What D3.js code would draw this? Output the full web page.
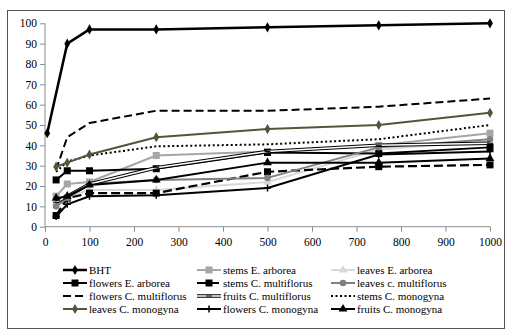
<!DOCTYPE html>
<html>
<head>
<meta charset="utf-8">
<script src="https://cdn.jsdelivr.net/npm/d3@7"></script>
<style>
  body { margin: 0; background: #fff; }
</style>
</head>
<body>
<div id="chart"></div>
<script>
// concentrations (x) and % activity (y)
const xMain = [25, 50, 100, 250, 500, 750, 1000];
const xBht = [5, 50, 100, 250, 500, 750, 1000];

const bht = [46, 90, 97, 97, 98, 99, 100];
const stemsEArborea = [15, 21, 22, 35, 37, 40, 46];
const leavesEArborea = [12, 15, 18, 18, 22, 38, 42];
const flowersEArborea = [23, 27.5, 27.5, 28.5, 36.5, 36, 39];
const stemsCMultiflorus = [5.5, 14, 16.5, 16.5, 27, 29.5, 30.4];
const leavesCMultiflorus = [10, 14, 21, 23, 24, 39, 43];
const flowersCMultiflorus = [28, 44, 51, 57, 57, 59, 63];
const fruitsCMultiflorus = [12, 15, 21, 29, 37, 40, 41];
const stemsCMonogyna = [27, 32, 35, 39.5, 40.5, 43, 50];
const leavesCMonogyna = [29.5, 31.5, 35.5, 44, 48, 50, 56];
const flowersCMonogyna = [5, 11, 15, 15.5, 19, 35.5, 37];
const fruitsCMonogyna = [14, 15, 20.5, 23, 31.5, 31.5, 33.5];

const xTicks = [0, 100, 200, 300, 400, 500, 600, 700, 800, 900, 1000];
const yTicks = [0, 10, 20, 30, 40, 50, 60, 70, 80, 90, 100];

// series list in legend order (styles only, values come from the arrays above)
const series = [
  { name: "BHT", xs: xBht, ys: bht, color: "#000", width: 2.5, marker: "diamond" },
  { name: "stems E. arborea", xs: xMain, ys: stemsEArborea, color: "#a6a6a6", width: 2, marker: "square" },
  { name: "leaves E. arborea", xs: xMain, ys: leavesEArborea, color: "#d9d9d9", width: 2, marker: "triangle" },
  { name: "flowers E. arborea", xs: xMain, ys: flowersEArborea, color: "#000", width: 2, marker: "square" },
  { name: "stems C. multiflorus", xs: xMain, ys: stemsCMultiflorus, color: "#000", width: 2.2, marker: "square", dash: "9,4" },
  { name: "leaves c. multiflorus", xs: xMain, ys: leavesCMultiflorus, color: "#808080", width: 2, marker: "circle" },
  { name: "flowers C. multiflorus", xs: xMain, ys: flowersCMultiflorus, color: "#000", width: 2, marker: null, dash: "8,4" },
  { name: "fruits C. multiflorus", xs: xMain, ys: fruitsCMultiflorus, color: "#000", width: 3.5, marker: "dash", double: true },
  { name: "stems C. monogyna", xs: xMain, ys: stemsCMonogyna, color: "#000", width: 2, marker: null, dash: "2,2.5" },
  { name: "leaves C. monogyna", xs: xMain, ys: leavesCMonogyna, color: "#55553a", width: 2, marker: "diamond" },
  { name: "flowers C. monogyna", xs: xMain, ys: flowersCMonogyna, color: "#000", width: 2, marker: "plus" },
  { name: "fruits C. monogyna", xs: xMain, ys: fruitsCMonogyna, color: "#000", width: 2, marker: "triangle" }
];

const serif = "Liberation Serif, Tinos, Times New Roman, Times, DejaVu Serif, serif";
const W = 511, H = 331;
const svg = d3.select("#chart").append("svg").attr("width", W).attr("height", H)
  .attr("font-family", serif);

// outer frame
svg.append("rect")
  .attr("x", 7.5).attr("y", 10.5).attr("width", 497).attr("height", 318)
  .style("fill", "none").style("stroke", "#555").style("stroke-width", 1);

const x = d3.scaleLinear().domain([0, 1000]).range([45, 490]);
const y = d3.scaleLinear().domain([0, 100]).range([226.7, 23.3]);

// axes
const xAxis = svg.append("g")
  .attr("transform", `translate(0,${y(0)})`)
  .call(d3.axisBottom(x).tickValues(xTicks).tickFormat(d3.format("d")).tickSize(5).tickPadding(6));
const yAxis = svg.append("g")
  .attr("transform", `translate(${x(0)},0)`)
  .call(d3.axisLeft(y).tickValues(yTicks).tickFormat(d3.format("d")).tickSize(5).tickPadding(3));

[xAxis, yAxis].forEach(a => {
  a.attr("font-family", serif).attr("font-size", 11.5);
  a.select(".domain").style("stroke", "#8c8c8c");
  a.selectAll(".tick line").style("stroke", "#8c8c8c");
  a.selectAll("text").attr("fill", "#000");
});
yAxis.select(".domain").attr("d", `M-0,${y(100)}V${y(0)}`);
xAxis.select(".domain").attr("d", `M${x(0)},0H${x(1000)}`);

// marker drawing helper
function drawMarker(g, type, cx, cy, color) {
  if (type === "diamond") {
    g.append("path").attr("d", d3.symbol(d3.symbolDiamond, 30)())
      .attr("transform", `translate(${cx},${cy})`).style("fill", color);
  } else if (type === "square") {
    g.append("rect").attr("x", cx - 3.5).attr("y", cy - 3.5).attr("width", 7).attr("height", 7)
      .style("fill", color);
  } else if (type === "triangle") {
    g.append("path").attr("d", d3.symbol(d3.symbolTriangle, 34)())
      .attr("transform", `translate(${cx},${cy})`).style("fill", color);
  } else if (type === "circle") {
    g.append("circle").attr("cx", cx).attr("cy", cy).attr("r", 3.3).style("fill", color);
  } else if (type === "plus") {
    g.append("path").attr("d", `M${cx - 3.5},${cy}H${cx + 3.5}M${cx},${cy - 3.5}V${cy + 3.5}`)
      .style("stroke", color).style("stroke-width", 1.5);
  } else if (type === "dash") {
    g.append("path").attr("d", `M${cx - 3},${cy}H${cx + 3}`)
      .style("stroke", color).style("stroke-width", 1);
  }
}

const line = d3.line().x(d => x(d[0])).y(d => y(d[1]));
const plot = svg.append("g");

series.forEach(s => {
  const pts = s.xs.map((v, i) => [v, s.ys[i]]);
  const g = plot.append("g");
  g.append("path").attr("d", line(pts))
    .style("fill", "none").style("stroke", s.color)
    .style("stroke-width", s.width)
    .style("stroke-dasharray", s.dash || null)
    .style("stroke-linejoin", "round");
  if (s.double) {
    g.append("path").attr("d", line(pts))
      .style("fill", "none").style("stroke", "#fff").style("stroke-width", 1.5);
  }
  if (s.marker) pts.forEach(p => drawMarker(g, s.marker, x(p[0]), y(p[1]), s.color));
});

// legend, 3 columns x 4 rows
const colX = [63, 197, 331];
const rowY = [270, 283, 296, 309];
const legend = svg.append("g");
series.forEach((s, i) => {
  const cx = colX[i % 3], cy = rowY[Math.floor(i / 3)];
  const g = legend.append("g");
  g.append("path").attr("d", `M${cx},${cy}H${cx + 24}`)
    .style("stroke", s.color).style("stroke-width", s.width)
    .style("stroke-dasharray", s.dash || null);
  if (s.double) {
    g.append("path").attr("d", `M${cx},${cy}H${cx + 24}`)
      .style("stroke", "#fff").style("stroke-width", 1.5);
  }
  if (s.marker) drawMarker(g, s.marker, cx + 12, cy, s.color);
  g.append("text").attr("x", cx + 26).attr("y", cy).attr("dy", "0.35em")
    .attr("font-family", serif).attr("font-size", 11).text(s.name);
});
</script>
</body>
</html>
